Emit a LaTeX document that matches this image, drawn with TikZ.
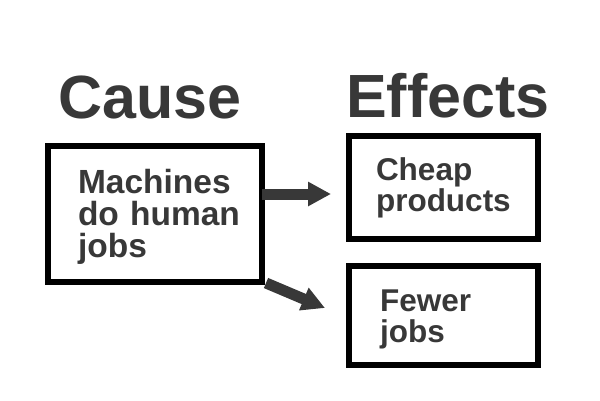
\documentclass[tikz,border=0pt]{standalone}
\usepackage{fontspec}
\setmainfont{Liberation Sans}
\usepackage{tikz}
\usetikzlibrary{arrows.meta,positioning}
\definecolor{InkGray}{HTML}{383838}
\tikzset{
  headtext/.style={font=\bfseries\fontsize{61}{61}\selectfont,text=InkGray,inner sep=0pt,anchor=base west},
  causebox/.style={draw=black,line width=6pt,align=left,font=\bfseries\fontsize{33.5}{32}\selectfont,text=InkGray,minimum height=136pt,minimum width=214pt,inner xsep=30pt,text width=154pt},
  effectbox/.style={draw=black,line width=6pt,align=left,font=\bfseries\fontsize{31.5}{31}\selectfont,text=InkGray,minimum width=189pt,inner ysep=0pt},
  fatarrow/.style={-{Triangle[length=23pt,width=23pt]},line width=11pt,draw=InkGray}
}
\begin{document}
\begin{tikzpicture}[x=1pt,y=-1pt]
\useasboundingbox (0,0) rectangle (600,400);
% headings
\node[headtext] (causehead) at (58,118) {Cause};
\node[headtext] (effhead) at (346,117) {Effects};
% boxes
\node[causebox,text height=29pt] (cause) at (155,214) {Machines\\\mbox{do human}\\jobs};
\node[effectbox,minimum height=103pt,inner xsep=27pt,text width=135pt] (cheap) at (443.5,187.5) {Cheap\\products};
\node[effectbox,minimum height=99pt,inner xsep=31pt,text width=127pt,text height=29pt,below=21pt of cheap] (fewer) {Fewer\\jobs};
% arrows
\coordinate (tip) at (325,308);
\draw[fatarrow,shorten >=15pt] ([yshift=20pt,xshift=-3pt]cause.east) -- ([yshift=20pt]cause.east -| cheap.west);
\draw[fatarrow] ([shift={(1pt,2pt)}]cause.south east) -- (tip);
\end{tikzpicture}
\end{document}
